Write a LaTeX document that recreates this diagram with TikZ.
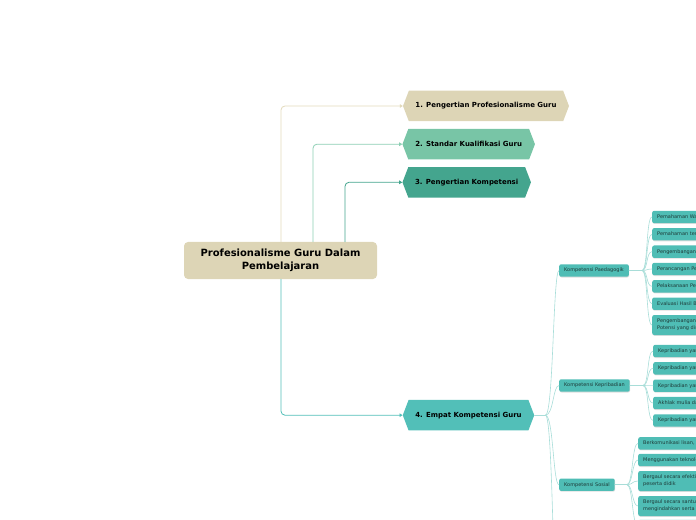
\documentclass[tikz,border=0pt]{standalone}
\usepackage{fontspec}
\setmainfont{DejaVu Sans}
\usetikzlibrary{arrows.meta,shapes.symbols,shadows}
\definecolor{tanbox}{HTML}{DDD5B6}
\definecolor{tanline}{HTML}{E2DABB}
\definecolor{mint}{HTML}{78C5A6}
\definecolor{pine}{HTML}{44A58E}
\definecolor{teal4}{HTML}{52BFB8}
\definecolor{leaffill}{HTML}{4FBDB5}
\definecolor{leafline}{HTML}{A8DDD8}
\definecolor{leaftext}{HTML}{1E3B38}

\begin{document}
\begin{tikzpicture}[x=1bp,y=-1bp,>={Triangle[length=3bp,width=3.6bp]},line cap=round,
  rootbox/.style={rectangle,rounded corners=4bp,fill=tanbox,minimum width=193bp,minimum height=37bp,align=center,font=\fontsize{10}{12.5}\selectfont\bfseries},
  topic/.style={signal,signal to=east and west,signal pointer angle=138,minimum height=30.5bp,inner sep=0pt,font=\fontsize{7}{8}\selectfont\bfseries},
  link/.style={->,line width=0.8bp,rounded corners=4bp},
  twig/.style={leafline,line width=0.6bp},
  leaf/.style={rectangle,rounded corners=2bp,fill=leaffill,text=leaftext,anchor=west,align=left,inner xsep=5bp,inner ysep=0pt,minimum height=12.4bp,font=\fontsize{5}{7}\selectfont,drop shadow={shadow xshift=0.4bp,shadow yshift=-0.8bp,opacity=0.25}}]
\useasboundingbox (0,0) rectangle (696,520);
\clip (0,0) rectangle (696,520);

\node[rootbox] (root) at (280.5,260.5) {Profesionalisme Guru Dalam\\Pembelajaran};

\node[topic,fill=tanbox,minimum width=166bp] (t1) at (486,106) {1. Pengertian Profesionalisme Guru};
\node[topic,fill=mint,minimum width=132.5bp] (t2) at (468.7,144.2) {2. Standar Kualifikasi Guru};
\node[topic,fill=pine,minimum width=128.5bp] (t3) at (466.7,182.3) {3. Pengertian Kompetensi};
\node[topic,fill=teal4,minimum width=131.5bp] (t4) at (468.5,415.2) {4. Empat Kompetensi Guru};

\draw[link,tanline] ([xshift=0.5bp]root.north) |- (t1.west);
\draw[link,mint!85!white] ([xshift=32.5bp]root.north) |- (t2.west);
\draw[link,pine] ([xshift=64.5bp]root.north) |- (t3.west);
\draw[link,teal4] ([xshift=0.5bp]root.south) |- (t4.west);

\node[leaf] (kped) at (559,270.5) {Kompetensi Paedagogik};
\node[leaf] (kkep) at (559,385.5) {Kompetensi Kepribadian};
\node[leaf] (ksos) at (559,484.7) {Kompetensi Sosial};
\coordinate (kpro) at (559,640);

\draw[twig] (t4.east) -- ++(11,0) coordinate (t4j);
\foreach \k in {kped,kkep,ksos}
  \draw[twig] (t4j) .. controls +(8,0) and +(-6,0) .. (\k.west);
\draw[twig] (t4j) .. controls +(8,0) and +(-6,0) .. (kpro);

\node[leaf] (p1) at (652,217) {Pemahaman Wawasan atau Landasan Kependidikan};
\node[leaf] (p2) at (652,234.3) {Pemahaman terhadap Peserta Didik};
\node[leaf] (p3) at (652,251.7) {Pengembangan Kurikulum atau Silabus};
\node[leaf] (p4) at (652,269) {Perancangan Pembelajaran};
\node[leaf] (p5) at (652,286.3) {Pelaksanaan Pembelajaran yang Mendidik dan Dialogis};
\node[leaf] (p6) at (652,303.7) {Evaluasi Hasil Belajar};
\node[leaf,minimum height=20bp] (p7) at (652,325) {Pengembangan Peserta Didik untuk Mengaktualisasikan\\Potensi yang dimilikinya};
\draw[twig] (kped.east) -- ++(13,0) coordinate (kpedj);
\foreach \k in {p1,p2,p3,p4,p5,p6,p7}
  \draw[twig] (kpedj) .. controls +(6,0) and +(-6,0) .. (\k.west);

\node[leaf] (k1) at (653,351) {Kepribadian yang mantap dan stabil};
\node[leaf] (k2) at (653,368.3) {Kepribadian yang dewasa};
\node[leaf] (k3) at (653,385.7) {Kepribadian yang arif};
\node[leaf] (k4) at (653,403) {Akhlak mulia dan dapat menjadi teladan};
\node[leaf] (k5) at (653,420.5) {Kepribadian yang berwibawa};
\draw[twig] (kkep.east) -- ++(13,0) coordinate (kkepj);
\foreach \k in {k1,k2,k3,k4,k5}
  \draw[twig] (kkepj) .. controls +(6,0) and +(-6,0) .. (\k.west);

\node[leaf] (s1) at (638,443.3) {Berkomunikasi lisan, tulisan, dan/atau isyarat};
\node[leaf] (s2) at (638,460) {Menggunakan teknologi komunikasi dan informasi secara fungsional};
\node[leaf,minimum height=20bp] (s3) at (638,481) {Bergaul secara efektif dengan sesama pendidik, tenaga kependidikan, orang tua/wali\\peserta didik};
\node[leaf,minimum height=20bp] (s4) at (638,506) {Bergaul secara santun dengan masyarakat sekitar\\mengindahkan serta sistem nilai yang berlaku};
\node[leaf] (s5) at (638,526) {Menerapkan prinsip persaudaraan dan kebersamaan};
\draw[twig] (ksos.east) -- ++(12,0) coordinate (ksosj);
\foreach \k in {s1,s2,s3,s4,s5}
  \draw[twig] (ksosj) .. controls +(6,0) and +(-6,0) .. (\k.west);
\end{tikzpicture}
\end{document}
